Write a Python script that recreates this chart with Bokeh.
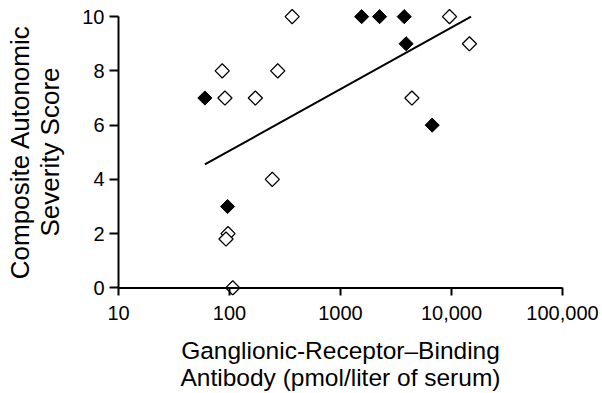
from bokeh.plotting import figure
from bokeh.models import FixedTicker, Range1d, CustomJSTickFormatter, Span
from bokeh.embed import file_html
from bokeh.resources import INLINE

# Antibody level (pmol/liter) and composite autonomic severity score
filled_x = [60, 96, 1550, 2250, 3750, 3900, 6700]
filled_y = [7, 3, 10, 10, 10, 9, 6]
open_x = [86, 91, 171, 272, 367, 243, 97, 93, 107, 9600, 14500, 4400]
open_y = [8, 7, 7, 8, 10, 4, 2, 1.8, 0, 10, 9, 7]

# Regression line end points
trend_x = [60, 15000]
trend_y = [4.55, 10.0]

x_ticks = [10, 100, 1000, 10000, 100000]
x_tick_labels = ["10", "100", "1000", "10,000", "100,000"]
y_ticks = [0, 2, 4, 6, 8, 10]

FONT = "Liberation Sans"

p = figure(width=602, height=393, x_axis_type="log",
           x_range=Range1d(10, 100000), y_range=Range1d(-0.28, 10.3),
           output_backend="svg", toolbar_location=None,
           min_border_left=118, min_border_right=40,
           min_border_top=8, min_border_bottom=96)

p.xgrid.visible = False
p.ygrid.visible = False
p.outline_line_color = None
p.background_fill_color = "white"
p.border_fill_color = "white"

# x axis line drawn at y = 0
p.add_layout(Span(location=0, dimension="width", line_color="black", line_width=2))

p.line(trend_x, trend_y, line_color="black", line_width=2)
p.scatter(open_x, open_y, marker="square", size=10, angle=45, angle_units="deg",
          fill_color="white", line_color="black", line_width=1.3)
p.scatter(filled_x, filled_y, marker="square", size=10, angle=45, angle_units="deg",
          fill_color="black", line_color="black", line_width=1)

for ax in (p.xaxis[0], p.yaxis[0]):
    ax.axis_line_color = "black"
    ax.axis_line_width = 2
    ax.major_tick_line_color = "black"
    ax.major_tick_line_width = 2
    ax.minor_tick_line_color = None
    ax.major_label_text_font = FONT
    ax.major_label_text_font_size = "20px"
    ax.major_label_text_color = "black"
    ax.axis_label_text_font = FONT
    ax.axis_label_text_font_style = "normal"
    ax.axis_label_text_color = "black"
    ax.axis_label_text_line_height = 1.0

xa = p.xaxis[0]
xa.ticker = FixedTicker(ticks=x_ticks)
xa.formatter = CustomJSTickFormatter(
    args=dict(tick_values=x_ticks, tick_texts=x_tick_labels),
    code="""
for (let i = 0; i < tick_values.length; i++) {
  if (Math.abs(tick_values[i] - tick) < 1e-6 * tick_values[i]) { return tick_texts[i]; }
}
return '';
""")
xa.axis_line_color = None
xa.major_tick_in = 8
xa.major_tick_out = 0
xa.major_label_standoff = 10
xa.axis_label = "Ganglionic-Receptor\u2013Binding\nAntibody (pmol/liter of serum)"
xa.axis_label_text_font_size = "24.5px"
xa.axis_label_standoff = 14

ya = p.yaxis[0]
ya.ticker = FixedTicker(ticks=y_ticks)
ya.bounds = (0, 10)
ya.major_tick_in = 0
ya.major_tick_out = 9
ya.major_label_standoff = 5
ya.axis_label = "Composite Autonomic\nSeverity Score"
ya.axis_label_text_font_size = "26px"
ya.axis_label_standoff = 14

open("out.html", "w").write(file_html(p, INLINE))
